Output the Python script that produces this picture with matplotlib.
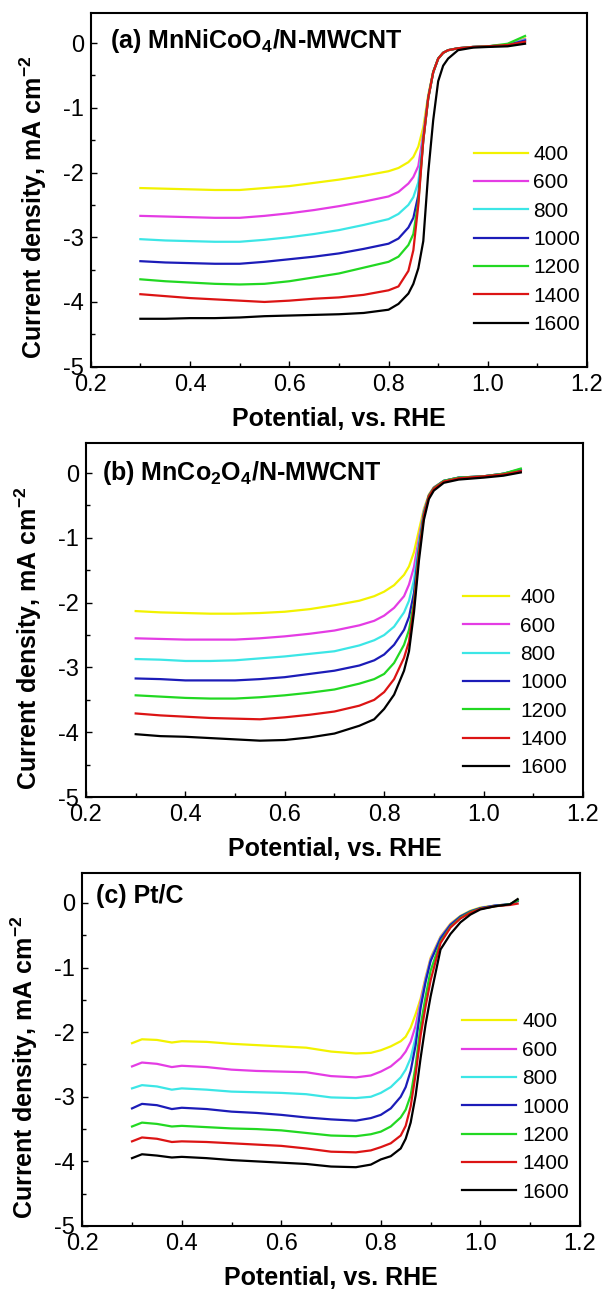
import matplotlib
matplotlib.use('Agg')
import matplotlib.pyplot as plt
from matplotlib.ticker import MultipleLocator, FormatStrFormatter

plt.rcParams['font.family'] = ['Liberation Sans', 'DejaVu Sans']
plt.rcParams['mathtext.fontset'] = 'custom'
plt.rcParams['mathtext.rm'] = 'Liberation Sans'
plt.rcParams['mathtext.bf'] = 'Liberation Sans:bold'
plt.rcParams['axes.unicode_minus'] = False

rpm_labels = ['400', '600', '800', '1000', '1200', '1400', '1600']
colors = ['#f2f200', '#e43ce4', '#3ce6e6', '#1c1cb8', '#22d822', '#dc1414', '#000000']

# ---------------- Panel (a) MnNiCoO4/N-MWCNT ----------------
xa = [0.30, 0.35, 0.40, 0.45, 0.50, 0.55, 0.60, 0.65, 0.70, 0.75, 0.80, 0.82, 0.84,
      0.85, 0.86, 0.87, 0.88, 0.89, 0.90, 0.91, 0.92, 0.94, 0.97, 1.00, 1.04, 1.075]
a400 = [-2.24, -2.25, -2.26, -2.27, -2.27, -2.24, -2.21, -2.16, -2.11, -2.05, -1.98, -1.93, -1.84,
        -1.76, -1.60, -1.30, -0.80, -0.44, -0.24, -0.15, -0.11, -0.08, -0.06, -0.05, -0.03, 0.07]
a600 = [-2.67, -2.68, -2.69, -2.70, -2.70, -2.67, -2.63, -2.58, -2.52, -2.45, -2.37, -2.30, -2.17,
        -2.07, -1.90, -1.40, -0.83, -0.45, -0.24, -0.15, -0.11, -0.08, -0.06, -0.05, -0.03, 0.06]
a800 = [-3.03, -3.05, -3.06, -3.07, -3.07, -3.04, -3.00, -2.95, -2.89, -2.81, -2.72, -2.64, -2.50,
        -2.38, -2.15, -1.45, -0.84, -0.45, -0.24, -0.15, -0.11, -0.08, -0.06, -0.05, -0.03, 0.05]
a1000 = [-3.37, -3.39, -3.40, -3.41, -3.41, -3.38, -3.34, -3.30, -3.25, -3.18, -3.10, -3.02, -2.85,
         -2.70, -2.35, -1.50, -0.85, -0.45, -0.24, -0.15, -0.11, -0.08, -0.06, -0.05, -0.03, 0.04]
a1200 = [-3.65, -3.68, -3.70, -3.72, -3.73, -3.72, -3.68, -3.62, -3.56, -3.47, -3.38, -3.30, -3.12,
         -2.95, -2.45, -1.50, -0.85, -0.45, -0.24, -0.15, -0.11, -0.08, -0.06, -0.05, -0.01, 0.11]
a1400 = [-3.88, -3.91, -3.94, -3.96, -3.98, -4.00, -3.98, -3.95, -3.93, -3.89, -3.82, -3.76, -3.52,
         -3.20, -2.50, -1.50, -0.85, -0.45, -0.24, -0.15, -0.11, -0.08, -0.06, -0.05, -0.03, 0.02]
a1600 = [-4.26, -4.26, -4.25, -4.25, -4.24, -4.22, -4.21, -4.20, -4.19, -4.17, -4.12, -4.03, -3.87,
         -3.72, -3.48, -3.06, -2.00, -1.19, -0.59, -0.35, -0.24, -0.11, -0.07, -0.06, -0.05, -0.01]

# ---------------- Panel (b) MnCo2O4/N-MWCNT ----------------
xb = [0.30, 0.35, 0.40, 0.45, 0.50, 0.55, 0.60, 0.65, 0.70, 0.75, 0.78, 0.80, 0.82,
      0.84, 0.85, 0.86, 0.87, 0.88, 0.89, 0.90, 0.92, 0.95, 1.00, 1.04, 1.075]
b400 = [-2.13, -2.15, -2.16, -2.17, -2.17, -2.16, -2.14, -2.10, -2.04, -1.97, -1.90, -1.83, -1.73,
        -1.57, -1.44, -1.22, -0.88, -0.55, -0.33, -0.22, -0.12, -0.07, -0.05, -0.01, 0.05]
b600 = [-2.55, -2.56, -2.57, -2.57, -2.57, -2.55, -2.52, -2.48, -2.43, -2.35, -2.28, -2.20, -2.08,
        -1.90, -1.72, -1.45, -1.00, -0.58, -0.34, -0.22, -0.12, -0.07, -0.05, -0.01, 0.06]
b800 = [-2.87, -2.88, -2.90, -2.90, -2.89, -2.86, -2.83, -2.79, -2.75, -2.66, -2.58, -2.50, -2.37,
        -2.15, -1.97, -1.65, -1.08, -0.60, -0.35, -0.23, -0.12, -0.07, -0.05, -0.01, 0.06]
b1000 = [-3.17, -3.18, -3.20, -3.20, -3.20, -3.18, -3.15, -3.10, -3.05, -2.97, -2.89, -2.80, -2.65,
         -2.42, -2.22, -1.85, -1.15, -0.62, -0.35, -0.23, -0.12, -0.07, -0.05, -0.01, 0.05]
b1200 = [-3.43, -3.45, -3.47, -3.48, -3.48, -3.46, -3.43, -3.39, -3.34, -3.25, -3.18, -3.10, -2.93,
         -2.65, -2.42, -2.00, -1.20, -0.63, -0.35, -0.23, -0.12, -0.07, -0.05, -0.01, 0.07]
b1400 = [-3.71, -3.74, -3.76, -3.78, -3.79, -3.80, -3.77, -3.73, -3.68, -3.59, -3.50, -3.38, -3.18,
         -2.85, -2.60, -2.05, -1.25, -0.65, -0.36, -0.24, -0.13, -0.08, -0.05, -0.02, 0.03]
b1600 = [-4.03, -4.06, -4.07, -4.09, -4.11, -4.13, -4.12, -4.08, -4.02, -3.90, -3.80, -3.64, -3.42,
         -3.05, -2.75, -2.15, -1.35, -0.72, -0.40, -0.27, -0.15, -0.10, -0.07, -0.04, 0.01]

# ---------------- Panel (c) Pt/C ----------------
xc = [0.30, 0.32, 0.35, 0.38, 0.40, 0.45, 0.50, 0.55, 0.60, 0.65, 0.70, 0.75, 0.78, 0.80, 0.82,
      0.84, 0.85, 0.86, 0.87, 0.88, 0.89, 0.90, 0.92, 0.94, 0.96, 0.98, 1.00, 1.03, 1.06, 1.075]
c400 = [-2.17, -2.11, -2.12, -2.16, -2.14, -2.15, -2.18, -2.20, -2.22, -2.24, -2.30, -2.33, -2.32, -2.28, -2.22,
        -2.14, -2.07, -1.93, -1.72, -1.48, -1.15, -0.85, -0.52, -0.32, -0.20, -0.12, -0.07, -0.04, -0.02, 0.05]
c600 = [-2.53, -2.47, -2.49, -2.54, -2.52, -2.54, -2.58, -2.60, -2.61, -2.62, -2.68, -2.70, -2.67, -2.61, -2.53,
        -2.40, -2.30, -2.15, -1.90, -1.52, -1.17, -0.87, -0.53, -0.33, -0.21, -0.13, -0.08, -0.04, -0.02, 0.04]
c800 = [-2.87, -2.82, -2.84, -2.89, -2.87, -2.89, -2.92, -2.93, -2.94, -2.96, -3.01, -3.02, -3.00, -2.94, -2.85,
        -2.70, -2.58, -2.40, -2.08, -1.58, -1.20, -0.89, -0.54, -0.34, -0.21, -0.13, -0.08, -0.04, -0.02, 0.04]
c1000 = [-3.18, -3.11, -3.13, -3.19, -3.17, -3.19, -3.23, -3.25, -3.28, -3.32, -3.35, -3.37, -3.33, -3.28, -3.18,
         -3.00, -2.85, -2.60, -2.20, -1.62, -1.22, -0.90, -0.55, -0.34, -0.21, -0.13, -0.08, -0.04, -0.02, 0.03]
c1200 = [-3.46, -3.40, -3.42, -3.46, -3.45, -3.47, -3.49, -3.50, -3.52, -3.56, -3.60, -3.61, -3.58, -3.54, -3.46,
         -3.32, -3.20, -2.98, -2.52, -1.90, -1.45, -1.05, -0.60, -0.37, -0.23, -0.14, -0.09, -0.05, -0.02, 0.04]
c1400 = [-3.69, -3.63, -3.65, -3.70, -3.69, -3.70, -3.72, -3.74, -3.76, -3.80, -3.85, -3.86, -3.83, -3.78, -3.72,
         -3.60, -3.45, -3.15, -2.65, -2.05, -1.60, -1.20, -0.62, -0.38, -0.24, -0.15, -0.09, -0.05, -0.03, -0.01]
c1600 = [-3.95, -3.89, -3.91, -3.94, -3.93, -3.95, -3.98, -4.00, -4.02, -4.04, -4.08, -4.09, -4.05, -3.97, -3.92,
         -3.80, -3.65, -3.40, -2.98, -2.40, -1.88, -1.45, -0.72, -0.48, -0.30, -0.18, -0.10, -0.05, -0.02, 0.06]

panels = [
    dict(x=xa, ys=[a400, a600, a800, a1000, a1200, a1400, a1600],
         title=r'(a) MnNiCoO$_{\mathbf{4}}$/N-MWCNT',
         rect=[0.149, 0.7162, 0.815, 0.2735], tpos=(0.039, 0.901), leg=(0.772, 0.36),
         hl=2.6, htp=0.25),
    dict(x=xb, ys=[b400, b600, b800, b1000, b1200, b1400, b1600],
         title=r'(b) MnCo$_{\mathbf{2}}$O$_{\mathbf{4}}$/N-MWCNT',
         rect=[0.1412, 0.3831, 0.816, 0.2738], tpos=(0.032, 0.896), leg=(0.759, 0.323),
         hl=2.2, htp=0.55),
    dict(x=xc, ys=[c400, c600, c800, c1000, c1200, c1400, c1600],
         title='(c) Pt/C',
         rect=[0.1351, 0.0511, 0.817, 0.2730], tpos=(0.0275, 0.915), leg=(0.763, 0.337),
         hl=2.6, htp=0.3),
]

fig = plt.figure(figsize=(6.09, 12.92), dpi=100)

for p in panels:
    ax = fig.add_axes(p['rect'])
    for y, c, lab in zip(p['ys'], colors, rpm_labels):
        ax.plot(p['x'], y, color=c, lw=1.6, label=lab)
    ax.set_xlim(0.2, 1.2)
    ax.set_ylim(-5, 0.46)
    ax.xaxis.set_major_locator(MultipleLocator(0.2))
    ax.xaxis.set_minor_locator(MultipleLocator(0.1))
    ax.yaxis.set_major_locator(MultipleLocator(1))
    ax.yaxis.set_minor_locator(MultipleLocator(0.5))
    ax.xaxis.set_major_formatter(FormatStrFormatter('%.1f'))
    ax.yaxis.set_major_formatter(FormatStrFormatter('%d'))
    ax.tick_params(which='both', direction='in', top=False, right=False, width=1.0)
    ax.tick_params(which='major', length=4.5, labelsize=17, pad=5)
    ax.tick_params(which='minor', length=3)
    for s in ax.spines.values():
        s.set_linewidth(1.5)
    ax.set_xlabel('Potential, vs. RHE', fontsize=18, fontweight='bold')
    ax.set_ylabel(r'Current density, mA cm$^{\mathbf{-2}}$', fontsize=18, fontweight='bold')
    ax.xaxis.set_label_coords(0.5, -0.113)
    ax.yaxis.set_label_coords(-0.085, 0.45)
    ax.text(p['tpos'][0], p['tpos'][1], p['title'], transform=ax.transAxes,
            fontsize=18, fontweight='bold', ha='left', va='baseline')
    ax.legend(loc='center left', bbox_to_anchor=p['leg'], frameon=False, fontsize=15,
              handlelength=p['hl'], handletextpad=p['htp'], labelspacing=0.45,
              borderpad=0, borderaxespad=0)

fig.savefig('out.png', dpi=100)
